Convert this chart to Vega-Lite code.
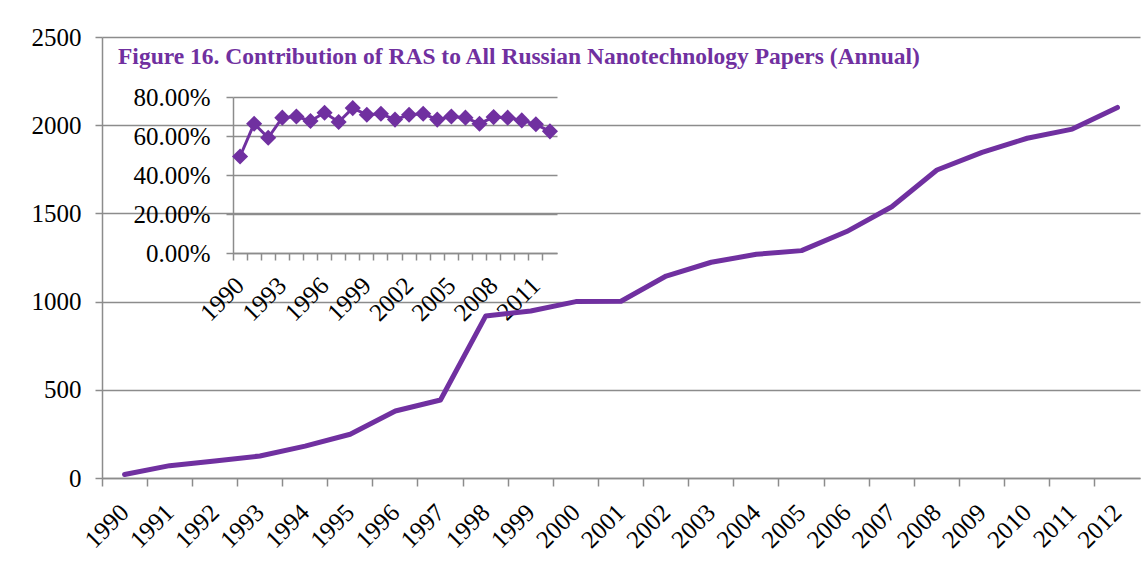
{
  "$schema": "https://vega.github.io/schema/vega-lite/v6.json",
  "width": 1038,
  "height": 441,
  "autosize": "none",
  "padding": {"left": 102, "top": 37, "right": 6, "bottom": 87},
  "background": "white",
  "config": {
    "view": {"stroke": null},
    "axis": {
      "labelFont": "Liberation Serif",
      "labelFontSize": 25,
      "labelColor": "#000000",
      "domainColor": "#8c8c8c",
      "domainWidth": 1.5,
      "tickColor": "#8c8c8c",
      "tickWidth": 1.5,
      "gridColor": "#8c8c8c",
      "gridWidth": 1.5,
      "gridOpacity": 1,
      "title": null
    }
  },
  "title": {
    "text": "Figure 16. Contribution of RAS to All Russian Nanotechnology Papers (Annual)",
    "anchor": "start",
    "frame": "group",
    "orient": "top",
    "offset": -62,
    "baseline": "alphabetic",
    "dx": 16,
    "font": "Liberation Serif",
    "fontSize": 23.5,
    "fontWeight": "bold",
    "color": "#7030A0"
  },
  "data": {
    "values": [
      {"year": 1990, "papers": 20, "share": 0.495},
      {"year": 1991, "papers": 70, "share": 0.663},
      {"year": 1992, "papers": 96, "share": 0.591},
      {"year": 1993, "papers": 125, "share": 0.694},
      {"year": 1994, "papers": 181, "share": 0.700},
      {"year": 1995, "papers": 248, "share": 0.677},
      {"year": 1996, "papers": 380, "share": 0.719},
      {"year": 1997, "papers": 442, "share": 0.672},
      {"year": 1998, "papers": 918, "share": 0.743},
      {"year": 1999, "papers": 947, "share": 0.709},
      {"year": 2000, "papers": 1000, "share": 0.714},
      {"year": 2001, "papers": 1002, "share": 0.684},
      {"year": 2002, "papers": 1145, "share": 0.709},
      {"year": 2003, "papers": 1223, "share": 0.714},
      {"year": 2004, "papers": 1268, "share": 0.684},
      {"year": 2005, "papers": 1289, "share": 0.700},
      {"year": 2006, "papers": 1397, "share": 0.694},
      {"year": 2007, "papers": 1538, "share": 0.663},
      {"year": 2008, "papers": 1746, "share": 0.697},
      {"year": 2009, "papers": 1846, "share": 0.694},
      {"year": 2010, "papers": 1926, "share": 0.680},
      {"year": 2011, "papers": 1978, "share": 0.660},
      {"year": 2012, "papers": 2101, "share": 0.624}
    ]
  },
  "layer": [
    {
      "mark": {"type": "line", "color": "#7030A0", "strokeWidth": 5, "strokeCap": "round", "strokeJoin": "round"},
      "encoding": {
        "x": {
          "field": "year", "type": "ordinal",
          "scale": {"type": "band", "paddingInner": 0, "paddingOuter": 0},
          "axis": {
            "bandPosition": 0, "tickSize": 8, "labelAngle": -45, "labelAlign": "right",
            "labelBaseline": "middle", "labelOffset": 0, "labelPadding": 22, "grid": false
          }
        },
        "y": {
          "field": "papers", "type": "quantitative",
          "scale": {"domain": [0, 2500]},
          "axis": {"values": [0, 500, 1000, 1500, 2000, 2500], "format": "d", "tickSize": 7, "labelPadding": 14, "grid": true}
        }
      }
    },
    {
      "mark": {
        "type": "line", "color": "#7030A0", "strokeWidth": 3,
        "point": {"shape": "diamond", "size": 260, "filled": true, "color": "#7030A0", "opacity": 1}
      },
      "encoding": {
        "x": {
          "field": "year", "type": "ordinal",
          "scale": {"type": "band", "paddingInner": 0, "paddingOuter": 0, "range": [131, 455]},
          "axis": {
            "orient": "bottom", "offset": -225, "bandPosition": 0, "tickSize": 7,
            "labelAngle": -45, "labelAlign": "right", "labelBaseline": "middle",
            "labelOffset": 0, "labelPadding": 21, "grid": false,
            "labelExpr": "(toNumber(datum.value) - 1990) % 3 == 0 ? datum.label : ''"
          }
        },
        "y": {
          "field": "share", "type": "quantitative",
          "scale": {"domain": [0, 0.8], "range": [216, 60]},
          "axis": {
            "orient": "left", "offset": -131, "values": [0, 0.2, 0.4, 0.6, 0.8],
            "format": ".2%", "tickSize": 7, "labelPadding": 16, "grid": true
          }
        }
      }
    }
  ],
  "resolve": {
    "scale": {"x": "independent", "y": "independent"},
    "axis": {"x": "independent", "y": "independent"}
  }
}
